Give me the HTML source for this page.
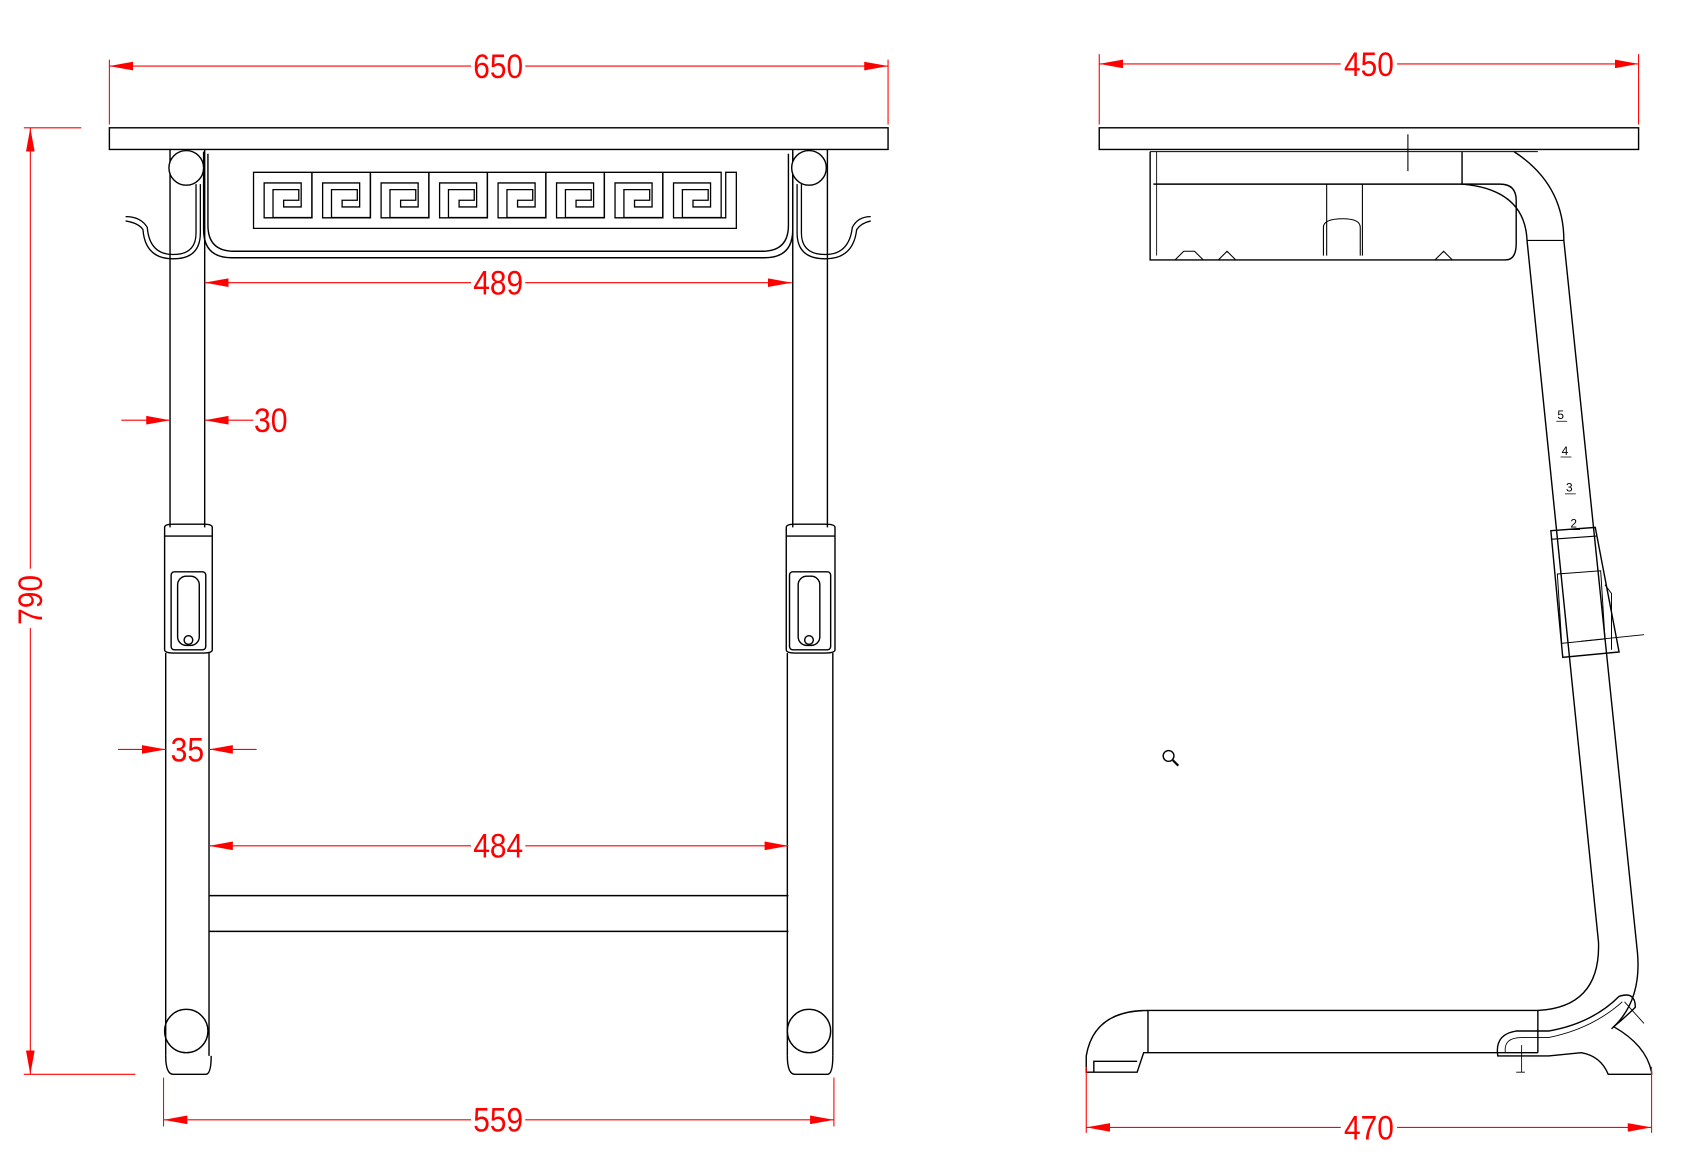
<!DOCTYPE html>
<html><head><meta charset="utf-8"><style>
html,body{margin:0;padding:0;background:#fff;}
svg{display:block;}
text{font-family:"Liberation Sans Narrow","Liberation Sans",sans-serif;fill:#f00;}
</style></head><body>
<svg width="1697" height="1158" viewBox="0 0 1697 1158" xmlns="http://www.w3.org/2000/svg">
<defs>
<marker id="a" viewBox="0 0 22 8" refX="22" refY="4" markerWidth="22" markerHeight="8" markerUnits="userSpaceOnUse" orient="auto-start-reverse"><path d="M0,0 L22,4 L0,8 z" fill="#f00"/></marker>
<path id="gk" d="M239,206 H675 M239,206 V164 H283 V196 H257 V180 H271 M293,206 V164 H337 V196 H311 V180 H325 M347,206 V164 H391 V196 H365 V180 H379 M401,206 V164 H445 V196 H419 V180 H433 M455,206 V164 H499 V196 H473 V180 H487 M509,206 V164 H553 V196 H527 V180 H541 M563,206 V164 H607 V196 H581 V180 H595 M617,206 V164 H661 V196 H635 V180 H649 M675,206 V164"/>
</defs>
<g transform="scale(1.083)">
<!-- ===== LEFT VIEW ===== -->
<g fill="none" stroke="#000" stroke-width="1.3">
<rect x="101" y="118" width="719" height="20"/>
<path d="M188,140 V212 Q188,238 214,238 H706 Q732,238 732,212 V140"/>
<path d="M192,142 V208 Q192,232 216,232 H704 Q728,232 728,208 V142"/>
<use href="#gk" stroke="#000" stroke-width="11" stroke-linecap="square" stroke-linejoin="miter"/>
<use href="#gk" stroke="#fff" stroke-width="8.6" stroke-linecap="square" stroke-linejoin="miter"/>
<!-- left leg -->
<path d="M157,138 V487 M189,138 V487"/>
<circle cx="172" cy="155" r="16" fill="#fff"/>
<path d="M181,170 V215 Q181,235 160,235 Q138,235 136,210 Q130,200 116,200" stroke-width="1.2"/>
<path d="M185,170 V215 Q185,239 160,239 Q134,239 132,212 Q128,206 116,204" stroke-width="1.2"/>
<path d="M152,487 Q152,484 160,484 H188 Q196,484 196,487 V600 Q196,603 188,603 H160 Q152,603 152,600 Z"/>
<path d="M152,495 H196"/>
<rect x="158" y="528" width="32" height="72" rx="3"/>
<rect x="164" y="532" width="20" height="64" rx="8"/>
<circle cx="174" cy="591" r="4"/>
<path d="M153,603 V975 M193,603 V975"/>
<circle cx="172" cy="952" r="20"/>
<path d="M153,975 Q153,992 160,992 H190 Q195,992 195,975"/>
<!-- right leg -->
<path d="M732,138 V487 M764,138 V487"/>
<circle cx="747" cy="155" r="16" fill="#fff"/>
<path d="M740,170 V215 Q740,235 762,235 Q784,235 787,210 Q792,200 804,200" stroke-width="1.2"/>
<path d="M736,170 V215 Q736,239 762,239 Q788,239 791,212 Q795,206 804,204" stroke-width="1.2"/>
<path d="M726,487 Q726,484 734,484 H762 Q771,484 771,487 V600 Q771,603 762,603 H734 Q726,603 726,600 Z"/>
<path d="M726,495 H771"/>
<rect x="729" y="528" width="38" height="72" rx="3"/>
<rect x="737" y="532" width="20" height="64" rx="8"/>
<circle cx="747" cy="591" r="4"/>
<path d="M727,603 V975 M769,603 V975"/>
<circle cx="747" cy="952" r="20"/>
<path d="M727,975 Q727,992 734,992 H764 Q769,992 769,975"/>
<path d="M193,827 H728 M193,860 H728"/>
</g>
<!-- left dims -->
<g stroke="#f00" stroke-width="1" fill="none">
<path d="M101,55 V115 M820,55 V115"/>
<line x1="435" y1="61" x2="101" y2="61" marker-end="url(#a)"/><line x1="485" y1="61" x2="820" y2="61" marker-end="url(#a)"/>
<path d="M22,118 H75 M22,992 H125"/>
<line x1="28" y1="525" x2="28" y2="118" marker-end="url(#a)"/><line x1="28" y1="580" x2="28" y2="992" marker-end="url(#a)"/>
<line x1="435" y1="261" x2="189" y2="261" marker-end="url(#a)"/><line x1="485" y1="261" x2="731" y2="261" marker-end="url(#a)"/>
<line x1="112" y1="388" x2="157" y2="388" marker-end="url(#a)"/><line x1="234" y1="388" x2="189" y2="388" marker-end="url(#a)"/>
<line x1="109" y1="692" x2="153" y2="692" marker-end="url(#a)"/><line x1="237" y1="692" x2="193" y2="692" marker-end="url(#a)"/>
<line x1="435" y1="781" x2="193" y2="781" marker-end="url(#a)"/><line x1="485" y1="781" x2="728" y2="781" marker-end="url(#a)"/>
<path d="M151,995 V1040 M770,995 V1040"/>
<line x1="435" y1="1034" x2="151" y2="1034" marker-end="url(#a)"/><line x1="485" y1="1034" x2="770" y2="1034" marker-end="url(#a)"/>
</g>
<g font-size="32" text-anchor="middle" lengthAdjust="spacingAndGlyphs">
<text x="460" y="72" textLength="46" lengthAdjust="spacingAndGlyphs">650</text>
<text x="460" y="272" textLength="46" lengthAdjust="spacingAndGlyphs">489</text>
<text x="250" y="399" textLength="31" lengthAdjust="spacingAndGlyphs">30</text>
<text x="173" y="703" textLength="31" lengthAdjust="spacingAndGlyphs">35</text>
<text x="460" y="792" textLength="46" lengthAdjust="spacingAndGlyphs">484</text>
<text x="460" y="1045" textLength="46" lengthAdjust="spacingAndGlyphs">559</text>
<text x="0" y="0" transform="translate(39,554) rotate(-90)" textLength="46" lengthAdjust="spacingAndGlyphs">790</text>
</g>
<!-- ===== RIGHT VIEW ===== -->
<g fill="none" stroke="#000" stroke-width="1.3">
<rect x="1015" y="118" width="498" height="20"/>
<path d="M1300,124 V158" stroke-width="1"/>
<path d="M1062,140 V240 H1390 Q1400,240 1400,225 V185 Q1400,170 1385,170 H1065"/>
<path d="M1068,140 V236" stroke-width="0.8"/>
<path d="M1225,170 V236 M1258,170 V236 M1222,236 V210 Q1222,202 1240,202 Q1256,202 1256,210 V236" stroke-width="1"/>
<path d="M1062,140 H1420" stroke-width="1"/>
<path d="M1085,240 l8,-8 h10 l8,8 M1125,240 l8,-8 l8,8 M1325,240 l8,-8 l8,8" stroke-width="1"/>
<path d="M1350,140 V170 Q1408,175 1410,222 L1476,870 Q1478,930 1420,933 H1060"/>
<path d="M1398,140 Q1444,170 1444,222 L1512,880 Q1516,925 1488,950"/>
<path d="M1410,222 H1444" stroke-width="1"/>
<path d="M1060,933 Q1010,933 1003,975 V990 H1050 L1056,972 H1420 M1060,933 V972"/>
<path d="M1010,990 V980 H1050"/>
<path d="M1420,933 V972"/>
<path d="M1383,975 Q1380,955 1400,952 H1430 Q1470,945 1495,920 Q1510,915 1510,930 Q1500,940 1490,948 Q1520,965 1525,990 V992 H1485 Q1478,975 1460,972 L1430,975 Z"/>
<path d="M1390,972 Q1388,958 1405,958 H1430 Q1470,950 1498,925" stroke-width="0.8"/>
<path d="M1405,965 V990 M1400,990 h8" stroke-width="0.8"/>
<path d="M1500,925 L1518,945" stroke-width="0.8"/>
<path d="M1432,490 L1473,487 L1495,602 L1443,607 Z"/>
<path d="M1432,498 L1474,495" stroke-width="1"/>
<path d="M1438,530 L1478,527 L1482,590 L1442,594 Z" stroke-width="0.9"/>
<path d="M1482,540 L1488,548 V600" stroke-width="0.9"/>
<path d="M1460,592 L1518,586" stroke-width="0.8"/>
<circle cx="1079" cy="698" r="5" stroke-width="1.3"/>
<path d="M1083,702 L1088,707" stroke-width="2"/>
</g>
<g font-size="11" font-family="Liberation Serif,serif">
<text x="1438" y="387" style="fill:#000">5</text>
<text x="1442" y="420" style="fill:#000">4</text>
<text x="1446" y="454" style="fill:#000">3</text>
<text x="1450" y="487" style="fill:#000">2</text>
</g>
<g stroke="#000" stroke-width="0.7"><path d="M1437,389 h10 M1441,422 h10 M1445,456 h10 M1449,489 h10"/></g>
<g stroke="#f00" stroke-width="1" fill="none">
<path d="M1015,50 V115 M1513,50 V115"/>
<line x1="1238" y1="59" x2="1015" y2="59" marker-end="url(#a)"/><line x1="1290" y1="59" x2="1513" y2="59" marker-end="url(#a)"/>
<path d="M1003,985 V1046 M1525,985 V1046"/>
<line x1="1238" y1="1041" x2="1003" y2="1041" marker-end="url(#a)"/><line x1="1290" y1="1041" x2="1525" y2="1041" marker-end="url(#a)"/>
</g>
<g font-size="32" text-anchor="middle">
<text x="1264" y="70" textLength="46" lengthAdjust="spacingAndGlyphs">450</text>
<text x="1264" y="1052" textLength="46" lengthAdjust="spacingAndGlyphs">470</text>
</g>
</g>
</svg>
</body></html>
